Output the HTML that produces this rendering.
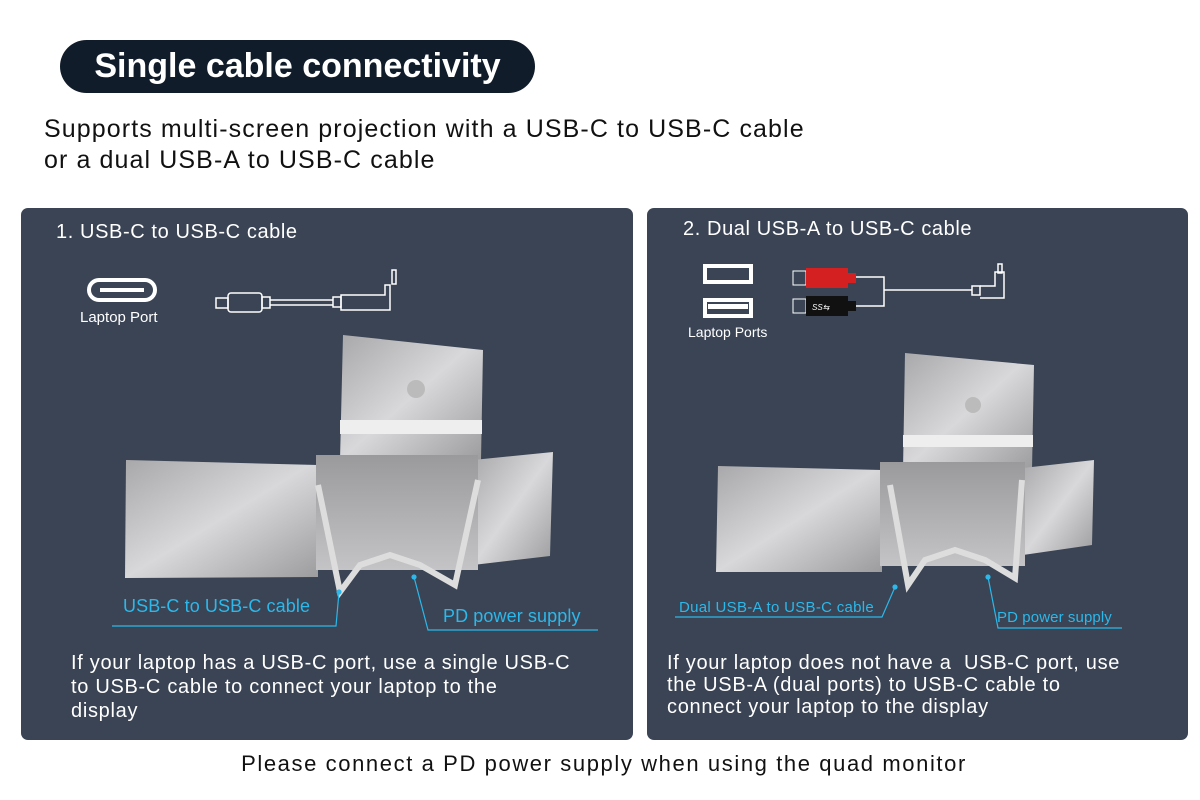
<!DOCTYPE html>
<html><head><meta charset="utf-8"><style>
body{margin:0;width:1200px;height:800px;background:#fff;position:relative;overflow:hidden;font-family:"Liberation Sans",sans-serif;}
.abs{position:absolute;}
.pill{left:60px;top:40px;width:475px;height:53px;background:#111c2a;border-radius:27px;color:#fff;font-weight:bold;font-size:34px;line-height:53px;text-align:center;}
.sub{left:44px;top:114px;font-size:25px;line-height:31px;color:#111;letter-spacing:1.1px;white-space:nowrap;}
.panel{background:#3a4454;border-radius:7px;top:208px;height:532px;}
.w{color:#fff;white-space:nowrap;}
.cy{color:#2cb8ea;}
</style></head><body>
<div class="abs pill">Single cable connectivity</div>
<div class="abs sub">Supports multi-screen projection with a USB-C to USB-C cable<br>or a dual USB-A to USB-C cable</div>
<div class="abs panel" style="left:21px;width:612px"></div>
<div class="abs panel" style="left:647px;width:541px"></div>
<div class="abs w" style="left:56px;top:221px;font-size:20px;letter-spacing:0.6px">1. USB-C to USB-C cable</div>
<div class="abs w" style="left:683px;top:218px;font-size:20px;letter-spacing:0.6px">2. Dual USB-A to USB-C cable</div>
<div class="abs w" style="left:80px;top:309px;font-size:15px">Laptop Port</div>
<div class="abs w" style="left:688px;top:324px;font-size:14px">Laptop Ports</div>
<svg class="abs" style="left:0;top:0" width="1200" height="800">
<defs><linearGradient id="g" x1="0" y1="0" x2="1" y2="1"><stop offset="0" stop-color="#a8a8aa"/><stop offset=".5" stop-color="#d8d8da"/><stop offset="1" stop-color="#9c9c9e"/></linearGradient>
<linearGradient id="g2" x1="0" y1="0" x2="0" y2="1"><stop offset="0" stop-color="#9a9a9c"/><stop offset="1" stop-color="#c4c4c6"/></linearGradient></defs>
<rect x="89" y="280" width="66" height="20" rx="10" fill="none" stroke="#fff" stroke-width="4"/>
<rect x="100" y="288" width="44" height="4" fill="#fff"/>
<g fill="none" stroke="#fff" stroke-width="1.5"><rect x="216" y="298" width="12" height="10"/><rect x="228" y="293" width="34" height="19" rx="3"/><rect x="262" y="297" width="8" height="11"/><path d="M270 300H333M270 305H333"/><rect x="333" y="297" width="8" height="10"/><path d="M341 295H385V285H390V310H355L341 310Z"/><rect x="392" y="270" width="4" height="14"/></g>
<rect x="705" y="266" width="46" height="16" fill="none" stroke="#fff" stroke-width="4"/>
<rect x="705" y="300" width="46" height="16" fill="none" stroke="#fff" stroke-width="4"/>
<rect x="708" y="304" width="40" height="5" fill="#fff"/>
<rect x="793" y="271" width="13" height="14" fill="none" stroke="#fff"/><rect x="806" y="268" width="42" height="20" fill="#d42020"/><rect x="848" y="273" width="8" height="10" fill="#d42020"/>
<rect x="793" y="299" width="13" height="14" fill="none" stroke="#fff"/><rect x="806" y="296" width="42" height="20" fill="#111"/><rect x="848" y="301" width="8" height="10" fill="#111"/>
<text x="812" y="310" fill="#fff" font-size="8" font-style="italic">SS⇆</text>
<g fill="none" stroke="#fff" stroke-width="1.5"><path d="M856 277H884V306H856M884 290H972"/><rect x="972" y="286" width="8" height="9"/><path d="M980 286H995V272H1004V298H980"/><rect x="998" y="264" width="4" height="9"/></g>
<polygon points="343,335 483,350 481,460 340,460" fill="url(#g)"/>
<rect x="340" y="420" width="142" height="14" fill="#eee"/>
<circle cx="416" cy="389" r="9" fill="#bbb"/>
<polygon points="126,460 318,465 318,577 125,578" fill="url(#g)"/>
<polygon points="473,460 553,452 550,556 473,565" fill="url(#g)"/>
<rect x="316" y="455" width="162" height="115" fill="url(#g2)"/>
<g fill="none" stroke="#ddd" stroke-width="6"><path d="M318 485L340 592L360 565L390 555L420 565L455 585L478 480"/></g>
<polygon points="905,353 1034,365 1032,470 903,470" fill="url(#g)"/>
<rect x="903" y="435" width="130" height="12" fill="#eee"/>
<circle cx="973" cy="405" r="8" fill="#bbb"/>
<polygon points="718,466 882,470 882,572 716,572" fill="url(#g)"/>
<polygon points="1023,468 1094,460 1092,545 1023,555" fill="url(#g)"/>
<rect x="880" y="462" width="145" height="104" fill="url(#g2)"/>
<g fill="none" stroke="#ddd" stroke-width="6"><path d="M890 485L908 585L925 560L955 550L985 560L1015 578L1022 480"/></g>
<g stroke="#2cb8ea" stroke-width="1.2" fill="none">
<path d="M112 626H336L339 592"/><circle cx="339" cy="592" r="2" fill="#2cb8ea"/>
<path d="M598 630H428L414 577"/><circle cx="414" cy="577" r="2" fill="#2cb8ea"/>
<path d="M675 617H882L895 587"/><circle cx="895" cy="587" r="2" fill="#2cb8ea"/>
<path d="M1122 628H998L988 577"/><circle cx="988" cy="577" r="2" fill="#2cb8ea"/>
</g>
</svg>
<div class="abs cy" style="left:123px;top:596px;font-size:18px;letter-spacing:0.1px">USB-C to USB-C cable</div>
<div class="abs cy" style="left:443px;top:606px;font-size:18px;letter-spacing:0.1px">PD power supply</div>
<div class="abs cy" style="left:679px;top:599px;font-size:15px;letter-spacing:0.3px">Dual USB-A to USB-C cable</div>
<div class="abs cy" style="left:997px;top:609px;font-size:15px;letter-spacing:0.1px">PD power supply</div>
<div class="abs w" style="left:71px;top:651px;font-size:20px;line-height:24px;letter-spacing:0.7px">If your laptop has a USB-C port, use a single USB-C<br>to USB-C cable to connect your laptop to the<br>display</div>
<div class="abs w" style="left:667px;top:652px;font-size:20px;line-height:22px;letter-spacing:0.7px">If your laptop does not have a&nbsp; USB-C port, use<br>the USB-A (dual ports) to USB-C cable to<br>connect your laptop to the display</div>
<div class="abs" style="left:0;width:1208px;text-align:center;top:751px;font-size:22px;color:#111;letter-spacing:1.6px">Please connect a PD power supply when using the quad monitor</div>
</body></html>
